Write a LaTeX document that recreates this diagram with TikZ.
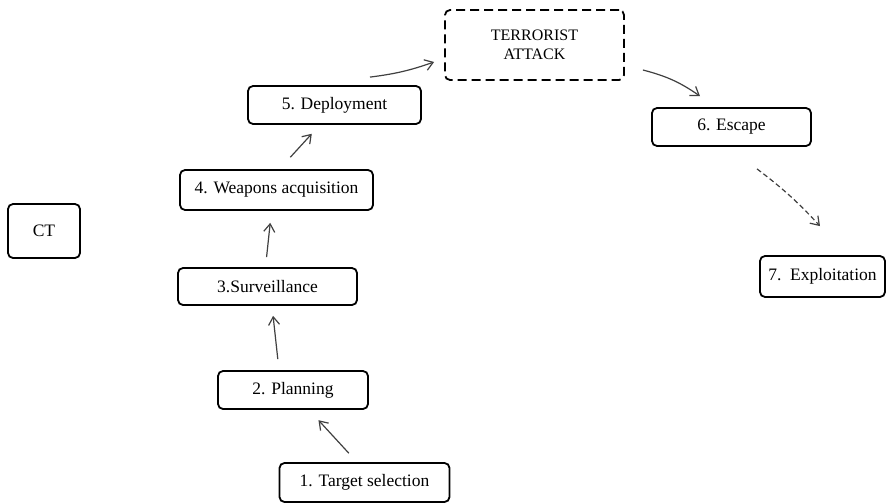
\documentclass[tikz,border=0pt]{standalone}
\usepackage{fontspec}
\setmainfont{Liberation Serif}
\usetikzlibrary{arrows.meta,calc}
\begin{document}
\begin{tikzpicture}[x=1pt,y=-1pt,
  stage/.style={draw=black,line width=1.8pt,rounded corners=5pt,align=center,
    inner sep=0pt,font=\fontsize{17.5}{19}\selectfont},
  attackbox/.style={stage,dashed,dash pattern=on 9pt off 5pt,font=\fontsize{16}{19}\selectfont},
  arr/.style={draw=black!75,line width=1.2pt,-{Straight Barb[length=8pt,width=11pt]}},
  darr/.style={arr,dash pattern=on 5pt off 3pt}]
\useasboundingbox (0,0) rectangle (887,503);
\node[attackbox,minimum width=179pt,minimum height=70pt] (TA) at (534.5,45) {TERRORIST\\ATTACK};
\node[stage,minimum width=173pt,minimum height=38pt] (dep) at (334.5,105) {5. Deployment};
\node[stage,minimum width=193pt,minimum height=40pt] (weap) at (276.5,190) {4. Weapons acquisition};
\node[stage,minimum width=72pt,minimum height=54pt] (ct) at (44,231) {CT};
\node[stage,minimum width=179pt,minimum height=37pt] (surv) at (267.5,286.5) {3.Surveillance};
\node[stage,minimum width=150pt,minimum height=38pt] (plan) at (293,390) {2. Planning};
\node[stage,minimum width=170pt,minimum height=39pt] (targ) at (364.5,482.5) {1. Target selection};
\node[stage,minimum width=159pt,minimum height=38pt] (esc) at (731.5,127) {6. Escape};
\node[stage,minimum width=125pt,minimum height=41pt] (expl) at (822.5,276.5) {7.\ \ Exploitation};

\draw[arr,shorten <=12pt,shorten >=14pt] ([xshift=-7.5pt]targ.north) -- ([xshift=16pt]plan.south);
\draw[arr,shorten <=11pt,shorten >=10pt] ([xshift=-14pt]plan.north) -- ([xshift=4.5pt]surv.south);
\draw[arr,shorten <=10pt,shorten >=12pt] ([xshift=-2pt]surv.north) -- ([xshift=-5pt]weap.south);
\draw[arr,shorten <=16pt,shorten >=12pt] ([xshift=3pt]weap.north) -- ([xshift=-14.6pt]dep.south);
\draw[arr] ([shift={(35.5,-8)}]dep.north) to[bend right=6] ([shift={(-10,17)}]TA.west);
\draw[arr] ([shift={(18,25)}]TA.east) to[bend left=10] ([shift={(-31.5,-11)}]esc.north);
\draw[darr] ([shift={(25.5,22)}]esc.south) to[bend left=5] ([shift={(-2.5,-29)}]expl.north);
\end{tikzpicture}
\end{document}
